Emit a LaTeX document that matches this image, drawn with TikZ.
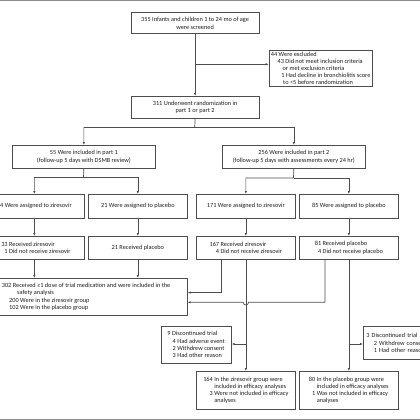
\documentclass[tikz,border=0pt]{standalone}
\usepackage{fontspec}
\setmainfont{Carlito}
\usetikzlibrary{arrows.meta,calc}
\definecolor{lnc}{HTML}{4D4D4D}
\definecolor{txc}{HTML}{1E1E1E}
\definecolor{rulec}{HTML}{8C8C8C}
\begin{document}
\begin{tikzpicture}[x=1pt,y=-1pt,
  box/.style={draw=lnc, line width=0.7pt, text=txc, inner sep=0pt,
    font=\fontsize{6.3}{7.2}\selectfont, align=center, anchor=north west},
  lbox/.style={box, align=left},
  conn/.style={draw=lnc, line width=0.7pt},
  arr/.style={conn, -{Latex[length=3pt,width=2.4pt]}},
  rulestyle/.style={draw=rulec, line width=1.4pt}]
\useasboundingbox (0,0) rectangle (420,420);
\clip (0,0) rectangle (420,420);

\draw[rulestyle] (0,0.7) -- (420,0.7);
\draw[rulestyle] (0,419.3) -- (420,419.3);

% top
\node[box, minimum width=128.5pt, minimum height=21pt] (screen) at (130.5,12.5)
  {355 Infants and children 1 to 24 mo of age\\were screened};
\node[lbox, minimum width=103.3pt, minimum height=36pt] (excl) at (268.7,50)
  {44 Were excluded\\
   \hspace*{6.7pt}43 Did not meet inclusion criteria\\
   \hspace*{11.7pt}or met exclusion criteria\\
   \hspace*{10.5pt}1 Had decline in bronchiolitis score\\
   \hspace*{12.3pt}to <5 before randomization};
\node[box, minimum width=128.5pt, minimum height=22pt] (rand) at (130.5,96)
  {311 Underwent randomization in\\part 1 or part 2};

% parts
\node[box, minimum width=143pt, minimum height=23pt] (part1) at (12,145)
  {55 Were included in part 1\\(follow-up 5 days with DSMB review)};
\node[box, minimum width=143pt, minimum height=23pt] (part2) at (222,145)
  {256 Were included in part 2\\(follow-up 5 days with assessments every 24 hr)};

% assigned
\node[box, minimum width=99pt, minimum height=24pt] (a1z) at (-15.5,194) {34 Were assigned to ziresovir};
\node[box, minimum width=99pt, minimum height=24pt] (a1p) at (88,194) {21 Were assigned to placebo};
\node[box, minimum width=99pt, minimum height=24pt] (a2z) at (196,194) {171 Were assigned to ziresovir};
\node[box, minimum width=99pt, minimum height=24pt] (a2p) at (299,194) {85 Were assigned to placebo};

% received
\node[lbox, minimum width=99pt, minimum height=23pt] (r1z) at (-15.5,236)
  {\hphantom{1}33 Received ziresovir\\\hphantom{11}1 Did not receive ziresovir};
\node[box, minimum width=99pt, minimum height=23pt] (r1p) at (88,236) {21 Received placebo};
\node[lbox, minimum width=99pt, minimum height=23pt] (r2z) at (196,236)
  {167 Received ziresovir\\\hphantom{16}4 Did not receive ziresovir};
\node[lbox, minimum width=99pt, minimum height=23pt] (r2p) at (299,236)
  {81 Received placebo\\\hphantom{8}4 Did not receive placebo};

% safety
\node[lbox, minimum width=202.5pt, minimum height=37pt] (safety) at (-15.5,278)
  {302 Received ≥1 dose of trial medication and were included in the\\
   \hspace*{15.4pt}safety analysis\\
   \hspace*{7.4pt}200 Were in the ziresovir group\\
   \hspace*{7.4pt}102 Were in the placebo group};

% discontinued
\node[lbox, minimum width=70.5pt, minimum height=37.5pt] (disc9) at (160.5,325.5)
  {9 Discontinued trial\\
   \hspace*{5.3pt}4 Had adverse event\\
   \hspace*{5.3pt}2 Withdrew consent\\
   \hspace*{5.3pt}3 Had other reason};
\node[lbox, text width=64pt, inner xsep=3pt, minimum height=33pt] (disc3) at (363,326)
  {3 Discontinued trial\\
   \hspace*{7.5pt}2 Withdrew consent\\
   \hspace*{7.5pt}1 Had other reason};

% efficacy
\node[lbox, minimum width=99pt, minimum height=38pt] (effz) at (196,371)
  {164 In the ziresovir group were\\
   \hphantom{164} included in efficacy analyses\\
   \hphantom{16}3 Were not included in efficacy\\
   \hphantom{164} analyses};
\node[lbox, minimum width=99pt, minimum height=38pt] (effp) at (299,371)
  {80 In the placebo group were\\
   \hphantom{80} included in efficacy analyses\\
   \hphantom{8}1 Was not included in efficacy\\
   \hphantom{80} analyses};

% connectors top
\draw[arr] (screen.south) -- (rand.north);
\coordinate (j1) at (194.75,64.3);
\draw[arr] (j1) -- (j1 -| excl.west);

\coordinate (jr) at (194.75,127.5);
\draw[arr] (rand.south) -- (jr) -| (part1.north);
\draw[arr] (jr) -| (part2.north);

\coordinate (jp1) at (83.5,177.5);
\draw[arr] (part1.south) -- (jp1) -| (a1z.north);
\draw[arr] (jp1) -| (a1p.north);
\coordinate (jp2) at (293.5,178);
\draw[arr] (part2.south) -- (jp2) -| (a2z.north);
\draw[arr] (jp2) -| (a2p.north);

\draw[arr] (a1z.south) -- (r1z.north);
\draw[arr] (a1p.south) -- (r1p.north);
\draw[arr] (a2z.south) -- (r2z.north);
\draw[arr] (a2p.south) -- (r2p.north);

\draw[arr] (r1z.south) -- (r1z.south |- safety.north);
\draw[arr] (r1p.south) -- (r1p.south |- safety.north);

\coordinate (k1) at (221,292.6);
\draw[arr] (r2z.south -| k1) -- (k1) -- (k1 -| safety.east);
\coordinate (k2) at (325,302.3);
\draw[arr] (r2p.south -| k2) -- (k2) -- ($(k2 -| r2z.south)+(2.7,0)$)
  arc[start angle=0, end angle=180, radius=2.7] -- (k2 -| safety.east);

\draw[arr] (r2z.south) -- (effz.north);
\coordinate (d1) at (245.5,344);
\draw[arr] (d1) -- (d1 -| disc9.east);
\draw[arr] (r2p.south) -- (effp.north);
\coordinate (d2) at (348.5,344);
\draw[arr] (d2) -- (d2 -| disc3.west);
\end{tikzpicture}
\end{document}
